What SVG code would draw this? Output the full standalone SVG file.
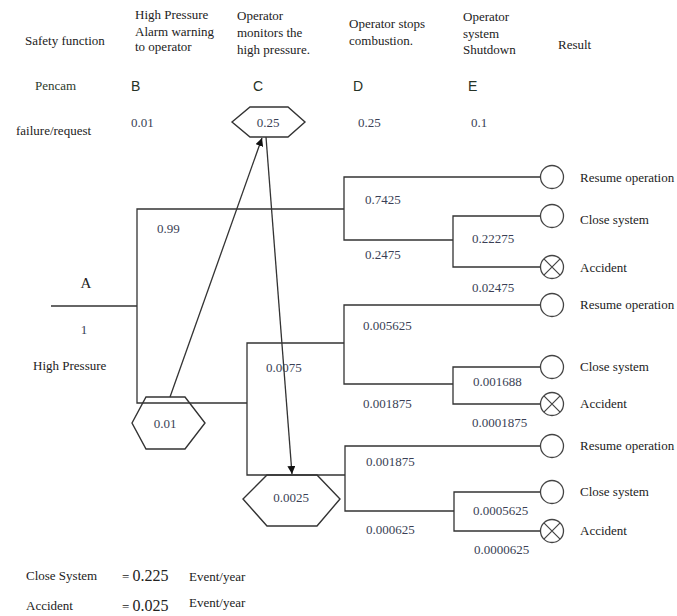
<svg xmlns="http://www.w3.org/2000/svg" width="677" height="616" viewBox="0 0 677 616">
<defs>
<style>
.t{font-family:"Liberation Serif","Times New Roman",serif;font-size:13px;fill:#222}
.n{font-family:"Liberation Serif","Times New Roman",serif;font-size:13px;fill:#3a3f55}
.s{font-family:"Liberation Sans",Arial,sans-serif;font-size:14px;fill:#263226}
.g{fill:#2c3a2c}
.ln{fill:none;stroke:#333;stroke-width:1.3}
.hx{fill:#fff;stroke:#333;stroke-width:1.4}
.c{fill:#fff;stroke:#444;stroke-width:1.3}
.x{stroke:#444;stroke-width:1.2}
</style>
<marker id="ah" viewBox="0 0 10 10" refX="10" refY="5" markerWidth="8" markerHeight="8" orient="auto" markerUnits="userSpaceOnUse">
<path d="M0,0 L10,5 L0,10 z" fill="#111"/>
</marker>
</defs>
<rect width="677" height="616" fill="#fff"/>

<g id="headers">
<text class="t" x="25" y="45">Safety function</text>
<text class="t" x="135" y="19">High Pressure</text>
<text class="t" x="135" y="36">Alarm warning</text>
<text class="t" x="135" y="51">to operator</text>
<text class="t" x="237" y="20">Operator</text>
<text class="t" x="237" y="37">monitors the</text>
<text class="t" x="237" y="54">high pressure.</text>
<text class="t" x="349" y="28">Operator stops</text>
<text class="t" x="349" y="45">combustion.</text>
<text class="t" x="463" y="21">Operator</text>
<text class="t" x="463" y="38">system</text>
<text class="t" x="463" y="54">Shutdown</text>
<text class="t" x="558" y="49">Result</text>
<text class="t g" x="35" y="90">Pencam</text>
<text class="s" x="131" y="91">B</text>
<text class="s" x="253" y="91">C</text>
<text class="s" x="353" y="91">D</text>
<text class="s" x="468" y="91">E</text>
<text class="t" x="16" y="135">failure/request</text>
<text class="n" x="131" y="127">0.01</text>
<text class="n" x="358" y="127">0.25</text>
<text class="n" x="471" y="127">0.1</text>
</g>

<g id="hexC">
<polygon class="hx" points="232,122 250,107 288,107 305,122 288,137 250,137"/>
<text class="n" x="268" y="127" text-anchor="middle">0.25</text>
</g>

<g id="start">
<text class="t" x="86" y="288" text-anchor="middle" style="font-size:15px">A</text>
<text class="n" x="84" y="334" text-anchor="middle">1</text>
<text class="t" x="33" y="370">High Pressure</text>
</g>

<g id="hexB">
<polygon class="hx" style="fill:none" points="132,423 146,397 185,397 205,423 185,449 146,449"/>
<text class="n" x="165" y="428" text-anchor="middle">0.01</text>
</g>

<g id="hexD">
<polygon class="hx" points="243,499 267,475 317,475 340,499 317,526 267,526"/>
<text class="n" x="291" y="502" text-anchor="middle">0.0025</text>
</g>

<g id="connectors">
<polyline class="ln" points="51,306 137,306"/>
<polyline class="ln" points="344,209 137,209 137,403 247,403"/>
<polyline class="ln" points="344,343 247,343 247,475 345,475"/>
<polyline class="ln" points="540,177 344,177 344,240 453,240"/>
<polyline class="ln" points="540,216 453,216 453,267 540,267"/>
<polyline class="ln" points="540,305 344,305 344,384 453,384"/>
<polyline class="ln" points="540,367 453,367 453,404 540,404"/>
<polyline class="ln" points="540,446 345,446 345,511 454,511"/>
<polyline class="ln" points="540,492 454,492 454,531 540,531"/>
<line class="ln" x1="170" y1="397" x2="262" y2="138" marker-end="url(#ah)"/>
<line class="ln" x1="266" y1="137" x2="292" y2="474" marker-end="url(#ah)"/>
</g>

<g id="probs">
<text class="n" x="157" y="233">0.99</text>
<text class="n" x="365" y="204">0.7425</text>
<text class="n" x="365" y="259">0.2475</text>
<text class="n" x="472" y="243">0.22275</text>
<text class="n" x="472" y="292">0.02475</text>
<text class="n" x="266" y="372">0.0075</text>
<text class="n" x="363" y="330">0.005625</text>
<text class="n" x="363" y="408">0.001875</text>
<text class="n" x="473" y="386">0.001688</text>
<text class="n" x="472" y="427">0.0001875</text>
<text class="n" x="366" y="466">0.001875</text>
<text class="n" x="366" y="534">0.000625</text>
<text class="n" x="473" y="515">0.0005625</text>
<text class="n" x="474" y="554">0.0000625</text>
</g>

<g id="r1"><circle class="c" cx="552" cy="177" r="11.5"/><text class="t" x="580" y="182">Resume operation</text></g>
<g id="r2"><circle class="c" cx="552" cy="216" r="11.5"/><text class="t" x="580" y="224">Close system</text></g>
<g id="r3"><circle class="c" cx="552" cy="267" r="11.5"/><path class="x" d="M543.9,258.9 L560.1,275.1 M560.1,258.9 L543.9,275.1"/><text class="t" x="580" y="272">Accident</text></g>
<g id="r4"><circle class="c" cx="552" cy="305" r="11.5"/><text class="t" x="580" y="309">Resume operation</text></g>
<g id="r5"><circle class="c" cx="552" cy="367" r="11.5"/><text class="t" x="580" y="371">Close system</text></g>
<g id="r6"><circle class="c" cx="552" cy="404" r="11.5"/><path class="x" d="M543.9,395.9 L560.1,412.1 M560.1,395.9 L543.9,412.1"/><text class="t" x="580" y="408">Accident</text></g>
<g id="r7"><circle class="c" cx="552" cy="446" r="11.5"/><text class="t" x="580" y="450">Resume operation</text></g>
<g id="r8"><circle class="c" cx="552" cy="492" r="11.5"/><text class="t" x="580" y="496">Close system</text></g>
<g id="r9"><circle class="c" cx="552" cy="531" r="11.5"/><path class="x" d="M543.9,522.9 L560.1,539.1 M560.1,522.9 L543.9,539.1"/><text class="t" x="580" y="535">Accident</text></g>

<g id="summary">
<text class="t" x="26" y="580">Close System</text>
<text class="t" x="122" y="581">= <tspan style="font-size:16px">0.225</tspan></text>
<text class="t" x="189" y="581">Event/year</text>
<text class="t" x="26" y="610">Accident</text>
<text class="t" x="122" y="611">= <tspan style="font-size:16px">0.025</tspan></text>
<text class="t" x="189" y="607">Event/year</text>
</g>
</svg>
